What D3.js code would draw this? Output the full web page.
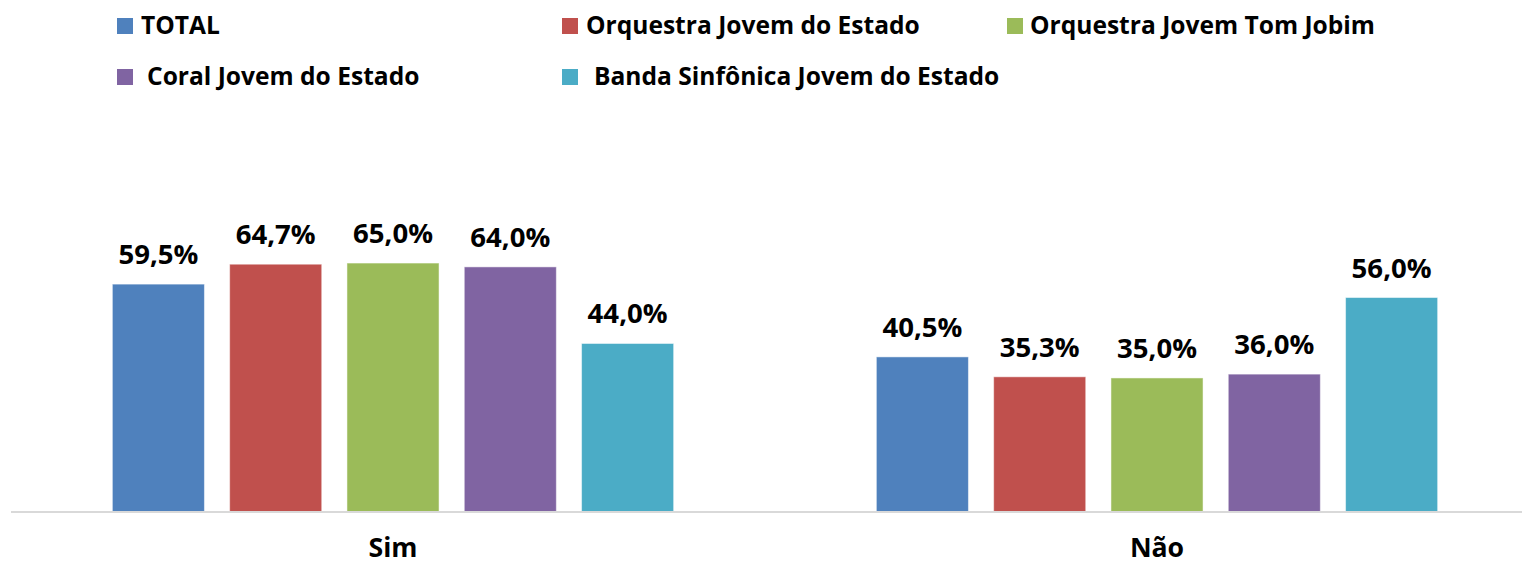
<!DOCTYPE html>
<html>
<head>
<meta charset="utf-8">
<script src="https://cdn.jsdelivr.net/npm/d3@7"></script>
<style>
  html, body { margin: 0; padding: 0; background: #fff; }
  svg { display: block; }
  text { font-family: "Open Sans", "Liberation Sans", sans-serif; font-weight: 700; fill: #000; }
</style>
</head>
<body>
<svg id="chart" width="1522" height="564"></svg>
<script>
// ---- data ----
const categories = ["Sim", "Não"];
const series = ["TOTAL", "Orquestra Jovem do Estado", "Orquestra Jovem Tom Jobim", "Coral Jovem do Estado", "Banda Sinfônica Jovem do Estado"];
const valuesTotal = [59.5, 40.5];
const valuesOrquestraEstado = [64.7, 35.3];
const valuesTomJobim = [65.0, 35.0];
const valuesCoral = [64.0, 36.0];
const valuesBanda = [44.0, 56.0];
const colors = ["#4F81BD", "#C0504D", "#9BBB59", "#8064A2", "#4BACC6"];

const seriesValues = [valuesTotal, valuesOrquestraEstado, valuesTomJobim, valuesCoral, valuesBanda];
const rows = [];
categories.forEach((c, ci) => series.forEach((s, si) => rows.push({cat: c, ser: s, si, v: seriesValues[si][ci]})));

const svg = d3.select("#chart");

// fit a font size so that a reference string has a target width
function fitSize(str, target) {
  const t = svg.append("text").attr("font-size", 100).text(str);
  const w = t.node().getComputedTextLength();
  t.remove();
  return 100 * target / w;
}
const labelSize = fitSize("59,5%", 80);
const legendSize = fitSize("Orquestra Jovem do Estado", 334);
const catSize = fitSize("Sim", 49);

// ---- scales ----
const baseY = 512;
const y = d3.scaleLinear().domain([0, 100]).range([baseY, baseY - 383]);
const x0 = d3.scaleBand().domain(categories).range([11, 1539]);
const x1 = d3.scaleBand().domain(series).range([0, x0.bandwidth()]).paddingInner(0.215).paddingOuter(0.864);

// ---- bars ----
const g = svg.append("g");
g.selectAll("rect.bar").data(rows).join("rect")
  .attr("class", "bar")
  .attr("x", d => x0(d.cat) + x1(d.ser))
  .attr("y", d => y(d.v))
  .attr("width", x1.bandwidth())
  .attr("height", d => y(0) - y(d.v))
  .attr("fill", d => colors[d.si])
  .attr("stroke", "#ffffff")
  .attr("stroke-opacity", 0.5)
  .attr("stroke-width", 1);

// value labels
g.selectAll("text.val").data(rows).join("text")
  .attr("class", "val")
  .attr("x", d => x0(d.cat) + x1(d.ser) + x1.bandwidth() / 2)
  .attr("y", d => y(d.v) - 20)
  .attr("text-anchor", "middle")
  .attr("font-size", labelSize)
  .text(d => d3.format(".1f")(d.v).replace(".", ",") + "%");

// x axis
const xAxis = d3.axisBottom(x0).tickSize(0).tickPadding(0);
const ax = svg.append("g").attr("transform", `translate(0,${baseY})`).call(xAxis);
ax.select(".domain").attr("d", "M11,0H1522").attr("stroke", "#D9D9D9").attr("stroke-width", 2);
ax.selectAll(".tick text")
  .attr("y", 45)
  .attr("dy", 0)
  .attr("font-size", catSize)
  .attr("font-family", null)
  .style("font-family", "'Open Sans', 'Liberation Sans', sans-serif")
  .style("font-weight", 700)
  .attr("fill", "#000");

// ---- legend ----
const legendPos = [
  {sx: 117, sy: 18, tx: 141, ty: 34},
  {sx: 562, sy: 18, tx: 586, ty: 34},
  {sx: 1007, sy: 18, tx: 1030, ty: 34},
  {sx: 117, sy: 69, tx: 147, ty: 85},
  {sx: 562, sy: 69, tx: 594, ty: 85}
];
const leg = svg.append("g").selectAll("g").data(series).join("g");
leg.append("rect")
  .attr("x", (d, i) => legendPos[i].sx)
  .attr("y", (d, i) => legendPos[i].sy)
  .attr("width", 16).attr("height", 16)
  .attr("fill", (d, i) => colors[i]);
leg.append("text")
  .attr("x", (d, i) => legendPos[i].tx)
  .attr("y", (d, i) => legendPos[i].ty)
  .attr("font-size", legendSize)
  .text(d => d);
</script>
</body>
</html>
